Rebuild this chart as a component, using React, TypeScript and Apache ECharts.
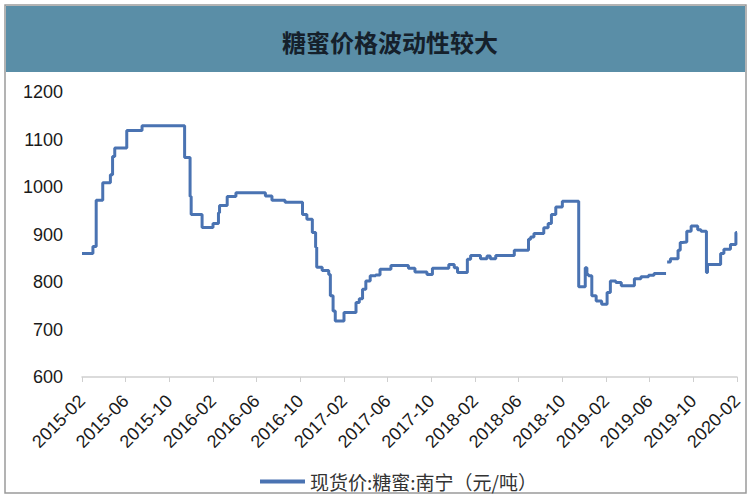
import { useEffect, useRef } from 'react'
import * as echarts from 'echarts'

// 图表数据
const chartTitle = '糖蜜价格波动性较大'
const seriesName = '现货价:糖蜜:南宁（元/吨）'
const tickLabels = [
  '2015-02', '2015-06', '2015-10', '2016-02', '2016-06', '2016-10',
  '2017-02', '2017-06', '2017-10', '2018-02', '2018-06', '2018-10',
  '2019-02', '2019-06', '2019-10', '2020-02'
]
// 距 2015-02 的月数
const months = [
  0, 1.0, 1.3, 1.9, 2.6, 2.8, 3.0, 4.1, 5.5, 9.4,
  9.9, 10.0, 11.0, 12.0, 12.5, 12.6, 13.3, 14.1, 16.8, 17.4,
  18.6, 20.2, 20.6, 21.1, 21.4, 21.5, 22.0, 22.6, 22.75, 23.0,
  23.2, 24.0, 25.1, 25.4, 25.7, 26.0, 26.4, 26.9, 27.3, 28.3,
  29.9, 30.5, 31.6, 32.1, 33.6, 34.1, 34.4, 35.3, 35.6, 36.5,
  37.1, 37.4, 37.9, 39.6, 40.9, 41.1, 41.4, 42.3, 42.7, 43.0,
  43.4, 44.0, 45.5, 46.1, 46.25, 46.4, 46.7, 47.1, 47.6, 48.1,
  48.4, 48.9, 49.4, 50.6, 51.2, 51.9, 52.4, 53.5, 53.55, 53.6,
  53.9, 54.6, 54.8, 55.0, 55.4, 55.8, 56.4, 56.7, 57.2, 57.3,
  58.5, 58.8, 59.4, 59.9, 60
]
const prices: (number | null)[] = [
  860, 875, 972, 1009, 1026, 1064, 1082, 1119, 1129, 1062,
  980, 942, 915, 923, 946, 961, 980, 988, 981, 972,
  968, 942, 932, 904, 873, 831, 824, 816, 771, 739,
  718, 736, 757, 765, 785, 802, 813, 815, 827, 835,
  829, 821, 816, 829, 837, 830, 820, 848, 856, 849,
  855, 849, 856, 867, 890, 895, 902, 914, 923, 942,
  958, 970, 790, 830, 816, 813, 771, 760, 753, 778,
  802, 799, 792, 807, 811, 814, 818, 818, null, 842,
  849, 867, 883, 884, 907, 918, 910, 907, 820, 837,
  860, 869, 879, 904, 904
]
const yTicks = [600, 1200, 100] // min, max, interval

const App: React.FC = () => {
  const chartRef = useRef<HTMLDivElement | null>(null)

  useEffect(() => {
    if (chartRef.current === null) return
    const chart = echarts.init(chartRef.current, undefined, { renderer: 'svg' })
    const data = months.map((m, i) => [m, prices[i]])

    chart.setOption({
      animation: false,
      backgroundColor: '#fff',
      graphic: [
        // 外框
        {
          type: 'rect',
          shape: { x: 5, y: 5, width: 741, height: 488 },
          style: { fill: 'none', stroke: '#9a9a9a', lineWidth: 1.5 },
          z: 0
        },
        // 标题栏
        {
          type: 'rect',
          shape: { x: 6, y: 6, width: 739, height: 66 },
          style: { fill: '#5a8ea7' },
          z: 1
        },
        {
          type: 'text',
          x: 390,
          y: 41,
          style: {
            text: chartTitle,
            fill: '#15202b',
            font: 'bold 24px "Noto Sans CJK SC"',
            align: 'center',
            verticalAlign: 'middle'
          },
          z: 2
        }
      ],
      grid: { left: 82, right: 13, top: 92, bottom: 123 },
      legend: {
        left: 255,
        top: 467,
        icon: 'rect',
        itemWidth: 45,
        itemHeight: 4,
        itemGap: 5,
        textStyle: { fontSize: 19, color: '#333', fontFamily: 'Noto Sans CJK SC' },
        data: [seriesName]
      },
      xAxis: {
        type: 'value',
        min: 0,
        max: 60,
        interval: 4,
        splitLine: { show: false },
        axisLine: { lineStyle: { color: '#cfcfcf', width: 1.5 } },
        axisTick: { show: true, length: 5, lineStyle: { color: '#cfcfcf' } },
        axisLabel: {
          rotate: 45,
          fontSize: 18,
          color: '#1a1a1a',
          fontFamily: 'Liberation Sans',
          margin: 21,
          formatter: (v: number) => tickLabels[Math.round(v / 4)] ?? ''
        }
      },
      yAxis: {
        type: 'value',
        min: yTicks[0],
        max: yTicks[1],
        interval: yTicks[2],
        splitLine: { show: false },
        axisLine: { show: false },
        axisTick: { show: false },
        axisLabel: {
          fontSize: 18,
          color: '#1a1a1a',
          fontFamily: 'Liberation Sans',
          margin: 19,
          formatter: (v: number) => String(v)
        }
      },
      series: [
        {
          name: seriesName,
          type: 'line',
          step: 'end',
          showSymbol: false,
          connectNulls: false,
          data,
          lineStyle: { color: '#4a73b2', width: 3 },
          itemStyle: { color: '#4a73b2' }
        }
      ]
    })

    return () => {
      chart.dispose()
    }
  }, [])

  return (
    <div
      ref={chartRef}
      style={{ position: 'fixed', left: 0, top: 0, width: 750, height: 500 }}
    ></div>
  )
}

export default App
